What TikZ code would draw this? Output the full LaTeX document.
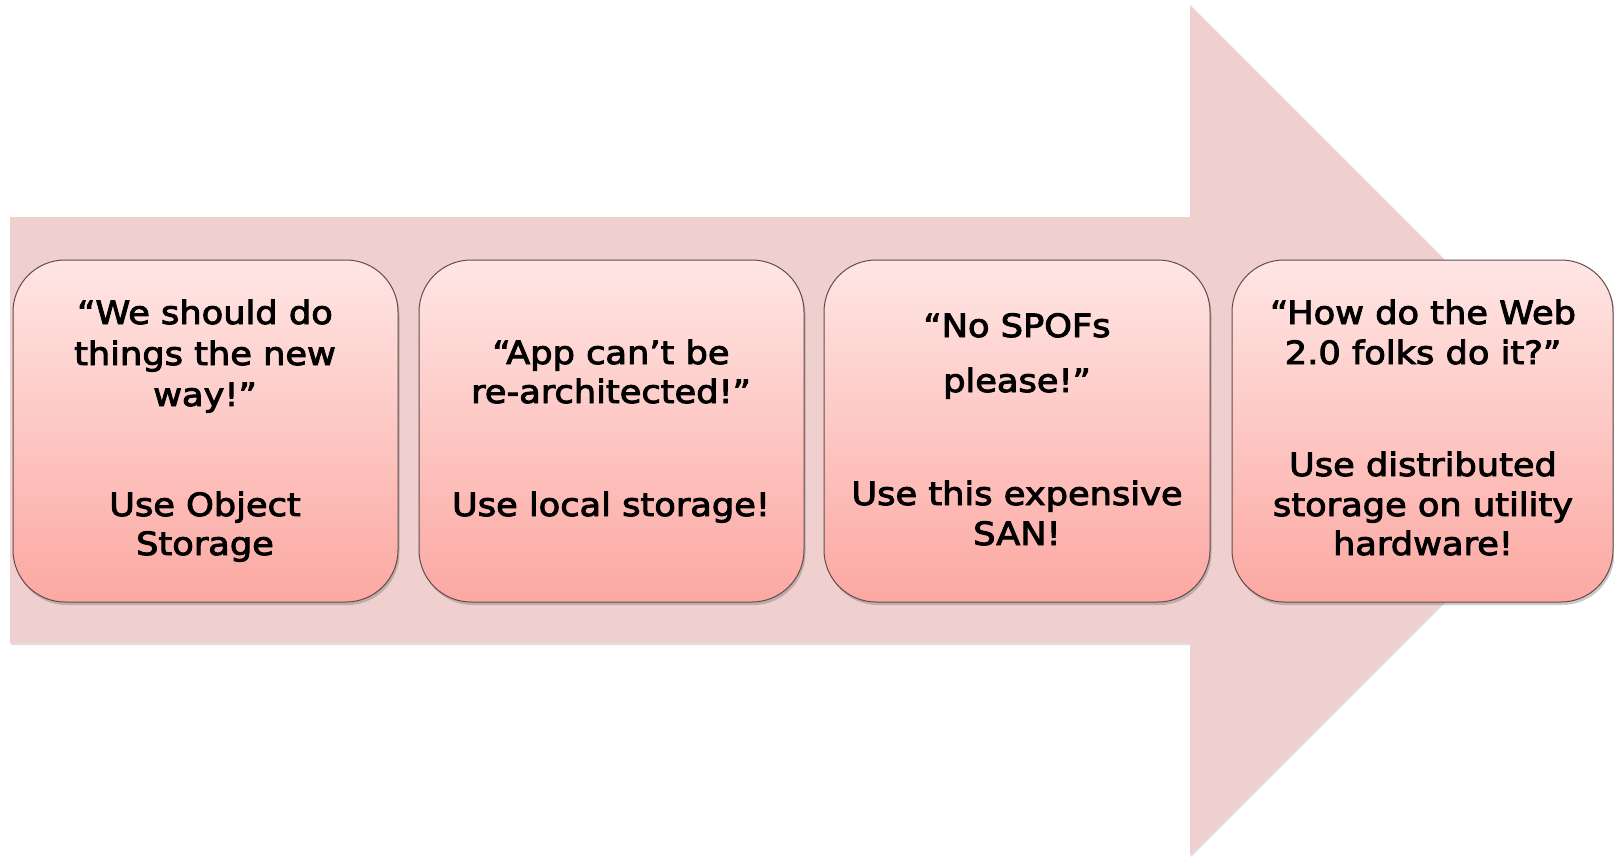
\documentclass[tikz,border=0pt]{standalone}
\usepackage{fontspec}
\newfontfamily\stagefont{DejaVu Sans}[FakeStretch=1.1, BoldFont=DejaVu Sans, BoldFeatures={FakeBold=3, FakeStretch=1.1}]
\usetikzlibrary{shadows}
\definecolor{arrowpink}{RGB}{240,208,206}
\definecolor{boxtop}{RGB}{254,230,228}
\definecolor{boxbot}{RGB}{252,168,162}
\definecolor{boxedge}{RGB}{100,75,75}
\tikzset{
  stage/.style={draw=boxedge, line width=1pt, rounded corners=52pt,
    top color=boxtop, bottom color=boxbot,
    drop shadow={shadow xshift=1.5pt, shadow yshift=-3pt, opacity=0.35, fill=black!60}},
  say/.style={anchor=base, inner sep=0pt, font=\stagefont\bfseries\fontsize{32}{40}\selectfont, text=black}
}
\begin{document}
\begin{tikzpicture}[x=1pt,y=-1pt]
\useasboundingbox (0,0) rectangle (1614,860);
% big arrow
\fill[arrowpink, drop shadow={shadow xshift=1pt, shadow yshift=-2pt, opacity=0.25}]
  (10,217) -- (1190,217) -- (1190,5) -- (1615,430) -- (1190,855) -- (1190,643) -- (10,643) -- cycle;
% boxes
\path[stage] (13,260) rectangle (398,602);
\path[stage] (419,260) rectangle (804,602);
\path[stage] (824,260) rectangle (1210,602);
\path[stage] (1232,260) rectangle (1613,602);
% box 1
\node[say] (q1a) at (205,324) {“We should do};
\node[say] (q1b) at (205,365) {things the new};
\node[say] (q1c) at (205,406) {way!”};
\node[say] (a1a) at (205,516) {Use Object};
\node[say] (a1b) at (205,555) {Storage};
% box 2
\node[say] (q2a) at (611,364) {“App can’t be};
\node[say] (q2b) at (611,403) {re-architected!”};
\node[say] (a2a) at (611,516) {Use local storage!};
% box 3
\node[say] (q3a) at (1017,337) {“No SPOFs};
\node[say] (q3b) at (1017,392) {please!”};
\node[say] (a3a) at (1017,505) {Use this expensive};
\node[say] (a3b) at (1017,545) {SAN!};
% box 4
\node[say] (q4a) at (1423,324) {“How do the Web};
\node[say] (q4b) at (1423,364) {2.0 folks do it?”};
\node[say] (a4a) at (1423,476) {Use distributed};
\node[say] (a4b) at (1423,516) {storage on utility};
\node[say] (a4c) at (1423,555) {hardware!};
\end{tikzpicture}
\end{document}
